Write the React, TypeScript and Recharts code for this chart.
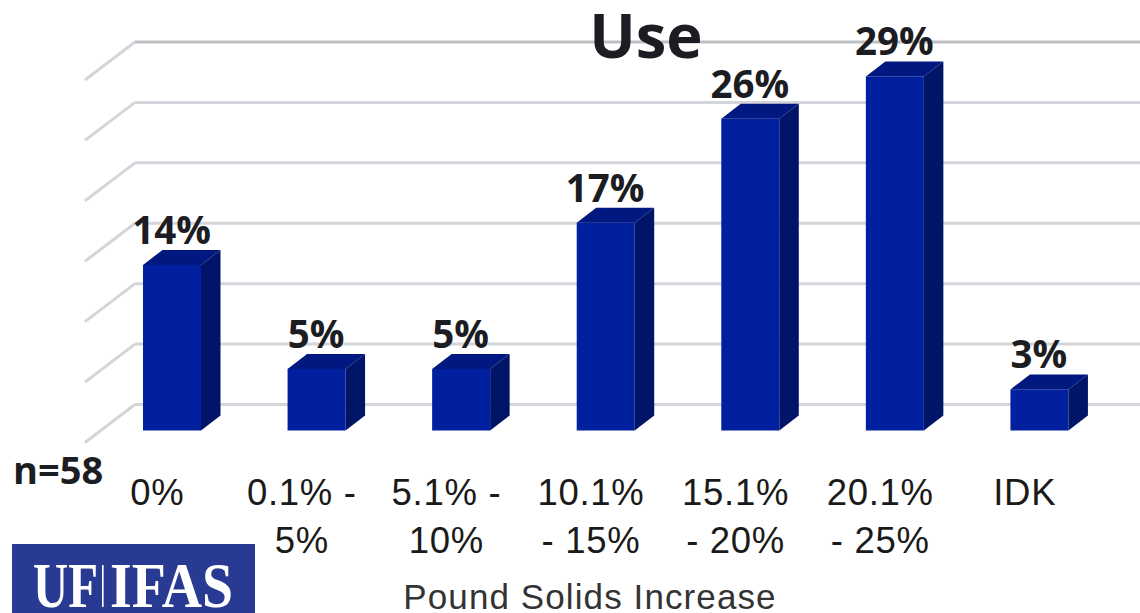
import React from "react";
import { BarChart, Bar, XAxis, YAxis, CartesianGrid } from "recharts";

const categories = ["0%", "0.1% -\n5%", "5.1% -\n10%", "10.1%\n- 15%", "15.1%\n- 20%", "20.1%\n- 25%", "IDK"];
const shares = [13.7, 5.1, 5.1, 17.2, 25.8, 29.3, 3.4];
const gridValues = [0, 5, 10, 15, 20, 25, 30];

const chartData = categories.map((name, i) => ({ name, share: shares[i] }));

const DEPTH_X = 19.5;
const DEPTH_Y = 15;
const WALL_Y = 26;
const labelFont = "'Open Sans', sans-serif";
const tickFont = "'Liberation Sans', sans-serif";

function Bar3D({ x, y, width, height }: any) {
  const r = x + width;
  const b = y + height;
  return (
    <g>
      <rect x={x} y={y} width={width} height={height} fill="#00209f" />
      <path d={`M${x},${y} L${x + DEPTH_X},${y - DEPTH_Y} L${r + DEPTH_X},${y - DEPTH_Y} L${r},${y} Z`} fill="#00187f" />
      <path d={`M${r},${y} L${r + DEPTH_X},${y - DEPTH_Y} L${r + DEPTH_X},${b - DEPTH_Y} L${r},${b} Z`} fill="#001468" />
    </g>
  );
}

function wallLine({ y1, key }: any) {
  const y = y1 - WALL_Y;
  // the top line of the wall prints a bit darker
  const stroke = Math.abs(y - 42) < 2 ? "#bcbfc4" : "#d4d5da";
  return (
    <g key={key}>
      <path d={`M85,${y + 38} L135,${y}`} fill="none" stroke="#d4d5da" strokeWidth={3} />
      <path d={`M135,${y} L1140,${y}`} fill="none" stroke={stroke} strokeWidth={3} />
    </g>
  );
}

function BarLabel({ x, y, width, value }: any) {
  return (
    <text
      x={x + width / 2 - 0.5}
      y={y - 21}
      textAnchor="middle"
      fontFamily={labelFont}
      fontWeight={700}
      fontSize={38.5}
      fill="#1c1d22"
    >
      {`${Math.round(value)}%`}
    </text>
  );
}

function CategoryTick({ x, payload }: any) {
  return (
    <text textAnchor="middle" fontFamily={tickFont} fontSize={36.5} letterSpacing={0.7} fill="#1a1a1a">
      {String(payload.value)
        .split("\n")
        .map((line: string, i: number) => (
          <tspan key={i} x={x - 15} y={505 + i * 48}>
            {line}
          </tspan>
        ))}
    </text>
  );
}

export default function App() {
  return (
    <div style={{ position: "absolute", left: 0, top: 0, width: 1140, height: 613, overflow: "hidden", background: "#fff" }}>
      <BarChart
        width={1140}
        height={613}
        data={chartData}
        barSize={58}
        margin={{ top: 68, right: 28, bottom: 0, left: 100 }}
      >
        <CartesianGrid vertical={false} horizontal={wallLine} horizontalValues={gridValues} />
        <YAxis hide domain={[0, 30]} ticks={gridValues} />
        <XAxis
          dataKey="name"
          height={182.5}
          interval={0}
          axisLine={false}
          tickLine={false}
          tick={<CategoryTick />}
        />
        <Bar dataKey="share" isAnimationActive={false} shape={<Bar3D />} label={<BarLabel />} />
      </BarChart>
      <div style={{ position: "absolute", left: 546, top: 0, width: 200, textAlign: "center", fontFamily: labelFont, fontWeight: 700, fontSize: 61.5, color: "#1c1d22", lineHeight: "68px" }}>
        Use
      </div>
      <div style={{ position: "absolute", left: 13, top: 445, fontFamily: labelFont, fontWeight: 700, fontSize: 38, color: "#1c1d22", lineHeight: "48px" }}>
        n=58
      </div>
      <div style={{ position: "absolute", left: 340, top: 581, width: 500, textAlign: "center", fontFamily: tickFont, fontSize: 35, letterSpacing: 1.1, color: "#333", lineHeight: "32px" }}>
        Pound Solids Increase
      </div>
      <svg style={{ position: "absolute", left: 12, top: 544 }} width={243} height={69}>
        <rect width={243} height={69} fill="#283a92" />
        <g fill="#fff" fontFamily="'Liberation Serif', serif" fontWeight={700} fontSize={63}>
          <text x={21} y={63} textLength={65} lengthAdjust="spacingAndGlyphs">UF</text>
          <rect x={90} y={21} width={1.6} height={42} />
          <text x={98} y={63} textLength={123} lengthAdjust="spacingAndGlyphs">IFAS</text>
        </g>
      </svg>
    </div>
  );
}
